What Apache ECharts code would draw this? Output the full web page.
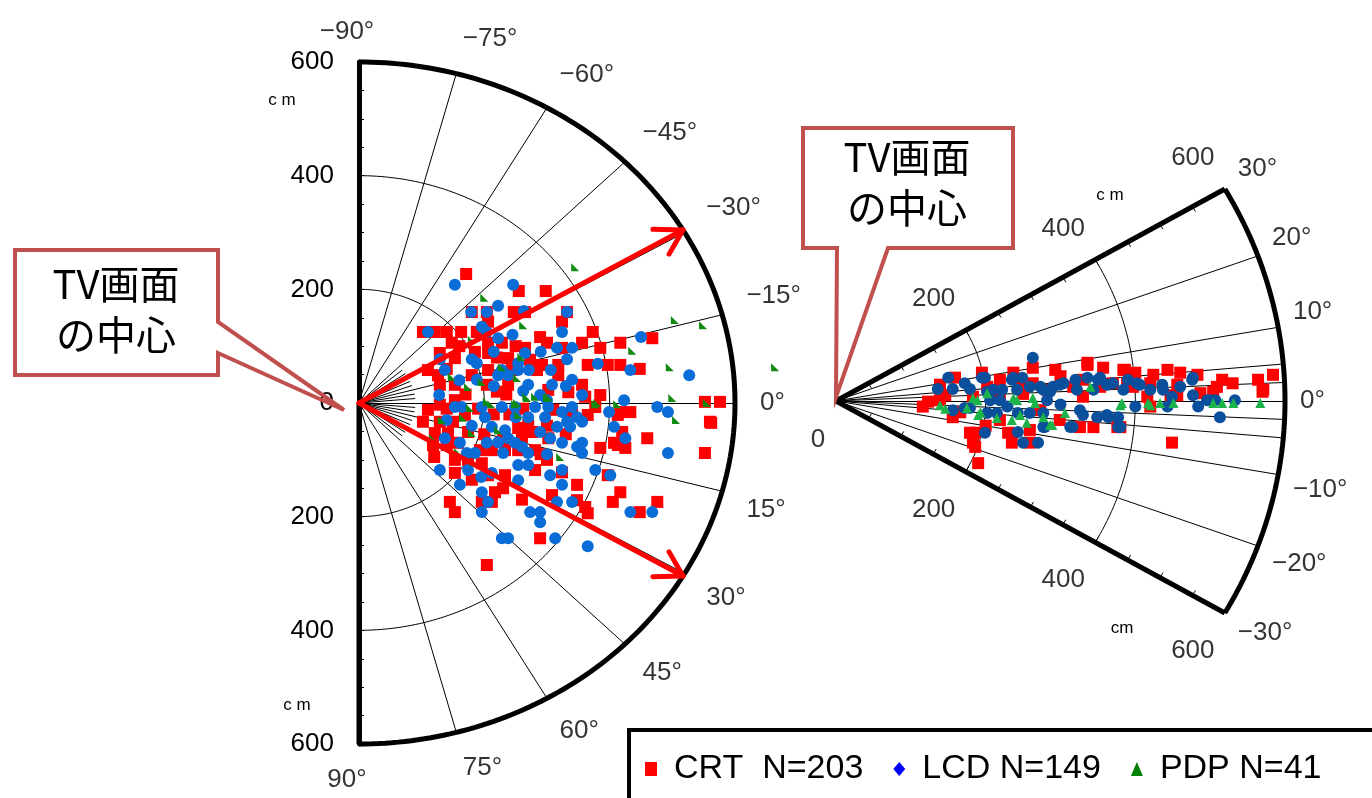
<!DOCTYPE html>
<html>
<head>
<meta charset="utf-8">
<script src="https://cdn.jsdelivr.net/npm/echarts@6/dist/echarts.min.js"></script>
<style>
html, body { margin: 0; padding: 0; background: #fff; }
#chart { width: 1372px; height: 798px; }
</style>
</head>
<body>
<div id="chart"></div>
<script>
// 左図：水平方向 [前方距離cm, 横方向cm(下が＋)]
var leftCRT = [[171,-227],[255,-197],[298,-197],[180,-160],[204,-160],[247,-160],[265,-160],[332,-160],[324,-143],[206,-143],
  [102,-125],[121,-125],[140,-125],[163,-125],[188,-125],[148,-106],[206,-106],[228,-106],[289,-116],[300,-106],
  [324,-97],[356,-106],[373,-125],[385,-97],[417,-106],[129,-88],[153,-79],[206,-88],[238,-79],[265,-97],
  [273,-76],[292,-67],[318,-67],[365,-67],[397,-67],[110,-58],[126,-49],[153,-32],[180,-49],[206,-58],
  [244,-58],[284,-58],[318,-49],[356,-32],[385,-14],[129,-32],[204,-32],[238,-32],[302,-23],[334,-19],
  [361,-11],[468,-114],[417,-67],[448,-60],[552,-2],[576,-2],[433,16],[417,16],[562,35],[460,62],
  [407,70],[425,79],[552,88],[102,33],[129,33],[150,33],[169,21],[121,53],[142,53],[174,51],
  [118,74],[140,74],[158,70],[193,83],[212,83],[233,83],[254,83],[281,83],[302,62],[254,44],
  [276,51],[310,12],[340,16],[365,21],[377,7],[413,21],[413,74],[385,79],[153,100],[174,100],
  [153,123],[196,106],[206,127],[233,127],[281,118],[324,122],[308,162],[348,144],[348,171],[365,194],
  [397,127],[417,157],[405,174],[145,174],[153,192],[196,174],[212,174],[289,238],[204,285],[217,157],
  [420,51],[560,33],[476,174],[448,192],[361,183],[129,3],[153,-5],[110,12],[240,20],[262,10],
  [160,-100],[185,-90],[220,-80],[250,-100],[140,-60],[170,-15],[190,10],[215,20],[235,-15],[270,40],
  [300,40],[330,55],[200,55],[230,65],[260,60],[180,135],[230,150],[260,170],[300,100],[120,95],
  [140,10],[220,-20],[290,90]];
var leftLCD = [[153,-208],[246,-208],[179,-160],[204,-160],[222,-171],[263,-162],[332,-160],[196,-134],[324,-125],[110,-125],
  [204,-125],[222,-114],[265,-88],[316,-97],[340,-97],[332,-77],[129,-77],[137,-58],[180,-77],[188,-70],
  [228,-58],[254,-70],[254,-58],[271,-58],[306,-58],[238,-49],[222,-49],[381,-69],[433,-58],[188,-41],
  [270,-32],[262,-21],[308,-32],[340,-41],[289,-14],[356,-14],[128,-14],[423,-5],[450,-116],[527,-49],
  [476,7],[493,16],[399,16],[407,42],[425,62],[493,88],[468,192],[433,192],[153,7],[164,7],
  [196,7],[228,7],[249,7],[281,7],[302,7],[324,16],[340,7],[201,25],[270,25],[297,25],
  [332,33],[348,25],[212,42],[233,48],[289,51],[316,42],[337,42],[356,33],[137,62],[161,70],
  [204,70],[222,69],[238,62],[249,70],[305,62],[324,70],[348,77],[172,88],[185,88],[230,88],
  [260,77],[270,88],[356,70],[356,88],[254,109],[270,109],[129,118],[174,118],[212,123],[254,136],
  [305,127],[324,118],[377,118],[401,127],[161,144],[196,157],[324,144],[206,174],[316,174],[340,174],
  [196,192],[273,192],[289,192],[289,210],[228,238],[238,238],[313,238],[365,252],
  [215,-90],[245,-120],[290,-90],[160,-40],[215,-30],[300,-5],[330,-30],[140,30],[180,40],[250,25],
  [300,90],[195,130]];
var leftPDP = [[345,-239],[200,-185],[262,-137],[180,-111],[148,-46],[174,-28],[196,-37],[228,-63],[259,-81],[252,-44],
  [267,-11],[211,2],[249,2],[281,-11],[302,-11],[377,2],[412,2],[436,-92],[504,-146],[549,-137],
  [496,-63],[500,-9],[555,0],[664,-63],[506,30],[132,30],[166,26],[177,9],[180,53],[204,-2],
  [222,48],[252,0],[254,21],[268,-9],[300,-9],[321,95],[380,0],[118,62],[158,86],[182,104]];

// 右図：垂直方向 [前方距離cm, 高さ方向cm(上が＋)]
var rightCRT = [[123,-1],[139,23],[159,33],[195,40],[202,20],[219,30],[237,40],[263,47],[293,44],[336,51],
  [357,47],[384,44],[424,37],[443,44],[483,37],[516,30],[564,30],[584,37],[571,16],[317,20],
  [353,20],[397,20],[420,25],[456,23],[487,11],[509,20],[263,25],[282,16],[246,20],[183,6],
  [219,6],[330,6],[416,6],[456,8],[116,-8],[139,1],[186,-45],[186,-65],[190,-88],[179,-45],
  [235,-59],[259,-59],[259,-41],[183,-59],[326,-37],[344,-37],[380,-37],[449,-59],[156,-23],[370,25],
  [389,25],[447,8],[504,13],[570,13],[420,-8],[376,-37],[386,44],[336,54],[146,8],[166,-16],
  [219,-27],[273,-13],[299,-27],[300,35],[330,30],[250,10],[400,40],[460,40],[530,25],[200,-35],
  [230,-45]];
var rightLCD = [[263,61],[150,33],[136,17],[156,17],[172,25],[179,17],[195,33],[210,16],[237,33],[249,33],
  [259,20],[273,20],[290,20],[304,25],[336,33],[353,33],[370,25],[384,16],[402,25],[420,16],
  [437,16],[449,6],[477,33],[477,8],[496,1],[507,1],[533,1],[513,-23],[344,16],[322,16],
  [219,1],[282,1],[199,33],[202,13],[222,16],[235,30],[242,16],[277,16],[286,13],[156,-13],
  [172,-10],[179,-10],[202,-17],[215,-17],[229,-8],[243,-17],[259,-17],[277,-17],[206,1],[199,-45],
  [243,-44],[250,-59],[270,-59],[277,-37],[316,-37],[349,-23],[364,-23],[377,-23],[377,-37],[299,23],
  [350,30],[362,23],[406,23],[436,23],[476,30],[484,-8],[500,1],[443,-8],[400,-8],[362,-20],
  [326,-13],[313,-37],[380,-37],[286,16],[279,-37],[320,30],[390,30],[460,20],[300,-5],[330,-20]];
var rightPDP = [[139,-6],[146,-11],[183,4],[189,1],[175,-10],[190,-20],[202,11],[215,-24],[235,-27],[237,4],
  [242,1],[255,-31],[263,4],[266,-3],[277,-23],[286,-34],[306,-17],[340,20],[380,-6],[382,-3],
  [417,-3],[420,-6],[433,-3],[451,-3],[504,-3],[516,-3],[531,-3],[567,-3],[193,-16],[246,-20],[289,-34]];

var seriesNames = ['CRT  N=203', 'LCD N=149', 'PDP N=41'];
var leftAngleTicks = [-90, -75, -60, -45, -30, -15, 0, 15, 30, 45, 60, 75, 90];
var leftRadialLines = [-75, -60, -45, -30, -15, 0, 15, 30, 45, 60, 75];
var leftShortLines = [-40, -35, -25, -20, -10, -5, 5, 10, 20, 25, 35, 40];
var rightAngleTicks = [-30, -20, -10, 0, 10, 20, 30];
var rightRadialLines = [-20, -10, -5, -2.5, 0, 2.5, 5, 10, 20];
var ringRadii = [200, 400];
var radiusLabels = [200, 400, 600];
var arrowAngles = [-30.5, 30.5];
var rMax = 600;

var FONT = 'Liberation Sans, Arial, sans-serif';
var JP = 'Noto Sans CJK JP, sans-serif';

function rad(a) { return a * Math.PI / 180; }
function pt(r, a) { return [r * Math.cos(rad(a)), r * Math.sin(rad(a))]; }
function arc(r, a0, a1) {
  var p = [];
  for (var a = a0; a <= a1 + 0.001; a += 1) p.push(pt(r, a));
  return p;
}
function angleText(a) { return (a < 0 ? '\u2212' + Math.abs(a) : a) + '\u00b0'; }

function frameLine(id, data, width, gi) {
  return { type: 'line', name: id, xAxisIndex: gi, yAxisIndex: gi, data: data, showSymbol: false, symbol: 'none',
    clip: false, silent: true, z: 1, lineStyle: { color: '#000', width: width }, animation: false };
}
function segs(id, list, width, gi) {
  return { type: 'lines', name: id, coordinateSystem: 'cartesian2d', xAxisIndex: gi, yAxisIndex: gi,
    silent: true, z: 1, lineStyle: { color: '#000', width: width, opacity: 1 }, data: list, animation: false };
}

var myChart = echarts.init(document.getElementById('chart'));
var series = [];

// ---- 左図の枠 ----
series.push(frameLine('L-outer', arc(rMax, -90, 90), 5, 0));
ringRadii.forEach(function(r) { series.push(frameLine('L-ring' + r, arc(r, -90, 90), 1, 0)); });
series.push(frameLine('L-edge90', [[0, 0], [0, rMax]], 5, 0));
series.push(segs('L-radial', leftRadialLines.map(function(a) { return { coords: [[0, 0], pt(rMax, a)] }; }), 1, 0));
series.push(segs('L-short', leftShortLines.map(function(a) { return { coords: [[0, 0], pt(90, a)] }; }), 1, 0));

// ---- 右図の枠 ----
series.push(frameLine('R-outer', arc(rMax, -30, 30), 5, 1));
ringRadii.forEach(function(r) { series.push(frameLine('R-ring' + r, arc(r, -30, 30), 1, 1)); });
series.push(segs('R-edges', [{ coords: [[0, 0], pt(rMax, 30)] }, { coords: [[0, 0], pt(rMax, -30)] }], 5, 1));
series.push(segs('R-radial', rightRadialLines.map(function(a) { return { coords: [[0, 0], pt(rMax, a)] }; }), 1, 1));
var rTicks = [];
for (var r = 50; r < rMax; r += 50) {
  [30, -30].forEach(function(a) {
    var p = pt(r, a), s = a > 0 ? 1 : -1;
    rTicks.push({ coords: [p, [p[0] + 8 * Math.sin(rad(a)) * s, p[1] - 8 * Math.cos(rad(a)) * s]] });
  });
}
series.push(segs('R-ticks', rTicks, 1, 1));

// ---- 散布点 ----
function scatter(name, data, gi, symbol, size, color) {
  return { type: 'scatter', name: name, xAxisIndex: gi, yAxisIndex: gi, data: data, symbol: symbol,
    symbolSize: size, clip: false, z: 2, itemStyle: { color: color, opacity: 1 }, animation: false };
}
series.push(scatter(seriesNames[0], leftCRT, 0, 'rect', 12, '#ff0000'));
series.push(scatter(seriesNames[1], leftLCD, 0, 'circle', 12, '#0a6cd6'));
series.push(scatter(seriesNames[2], leftPDP, 0, 'path://M0,0 L0,10 L10,10 Z', 8, '#118a11'));
series.push(scatter(seriesNames[0], rightCRT, 1, 'rect', 12, '#ff0000'));
series.push(scatter(seriesNames[1], rightLCD, 1, 'circle', 12, '#0a4f9c'));
series.push(scatter(seriesNames[2], rightPDP, 1, 'triangle', 10, '#1db34b'));

// ---- 矢印（開いた矢じり）----
var arrowSegs = [];
arrowAngles.forEach(function(a) {
  var tip = pt(rMax, a);
  arrowSegs.push({ coords: [[0, 0], tip] });
  [-32, 32].forEach(function(d) {
    var b = pt(48, a + 180 + d);
    arrowSegs.push({ coords: [tip, [tip[0] + b[0], tip[1] + b[1]]] });
  });
});
series.push({ type: 'lines', name: 'arrows', coordinateSystem: 'cartesian2d', xAxisIndex: 0, yAxisIndex: 0,
  silent: true, z: 5, lineStyle: { color: '#ff0000', width: 5, opacity: 1, cap: 'round' },
  data: arrowSegs, animation: false });

// ---- 目盛ラベル ----
function labelSeries(name, gi, items) {
  return { type: 'scatter', name: name, xAxisIndex: gi, yAxisIndex: gi, silent: true, z: 6, clip: false,
    symbolSize: 1, itemStyle: { color: 'rgba(0,0,0,0)' }, data: items, animation: false };
}
series.push(labelSeries('L-angle', 0, leftAngleTicks.map(function(a) {
  return { value: pt(640, a), label: { show: true, formatter: angleText(a), fontSize: 26, fontFamily: FONT, color: '#000',
    align: Math.abs(a) === 90 ? 'center' : 'left', verticalAlign: a < 0 ? 'bottom' : (a > 0 ? 'top' : 'middle'),
    position: 'inside', offset: [Math.abs(a) === 90 ? -12 : 0, a === -90 ? 6 : 0] } };
})));
series.push(labelSeries('R-angle', 1, rightAngleTicks.map(function(a) {
  return { value: pt(620, a), label: { show: true, formatter: angleText(a), fontSize: 26, fontFamily: FONT, color: '#000',
    align: 'left', verticalAlign: a > 0 ? 'bottom' : (a < 0 ? 'top' : 'middle'), position: 'inside' } };
})));
var rLabs = [];
radiusLabels.forEach(function(r) {
  rLabs.push({ value: pt(r, 30), label: { show: true, formatter: String(r), offset: [-32, -31] } });
  rLabs.push({ value: pt(r, -30), label: { show: true, formatter: String(r), offset: [-32, 38] } });
});
rLabs.push({ value: [0, 0], label: { show: true, formatter: '0', offset: [-18, 39] } });
var rLabSeries = labelSeries('R-radius', 1, rLabs);
rLabSeries.label = { position: 'inside', fontSize: 26, fontFamily: FONT, color: '#000', align: 'center', verticalAlign: 'middle' };
series.push(rLabSeries);

// ---- 吹き出し ----
function callout(points, lines, cx, cy) {
  return [
    { type: 'polygon', z: 20, shape: { points: points }, style: { fill: 'none', stroke: '#c0504d', lineWidth: 4, lineJoin: 'miter' } },
    { type: 'text', z: 21, x: cx, y: cy, style: { text: lines[0], font: '40px ' + JP, fill: '#000', align: 'center', verticalAlign: 'middle' } },
    { type: 'text', z: 21, x: cx, y: cy + 51, style: { text: lines[1], font: '40px ' + JP, fill: '#000', align: 'center', verticalAlign: 'middle' } }
  ];
}
var calloutText = ['TV画面', 'の中心'];
var graphics = []
  .concat(callout([[15, 250], [218, 250], [218, 322], [344, 410], [218, 353], [218, 375], [15, 375]], calloutText, 116, 284))
  .concat(callout([[803, 128], [1013, 128], [1013, 248], [888, 248], [836, 397], [837, 248], [803, 248]], calloutText, 907, 157));
graphics.push({ type: 'text', z: 6, x: 282, y: 100, style: { text: 'c m', font: '17px ' + FONT, fill: '#000', align: 'center', verticalAlign: 'middle' } });
graphics.push({ type: 'text', z: 6, x: 297, y: 705, style: { text: 'c m', font: '17px ' + FONT, fill: '#000', align: 'center', verticalAlign: 'middle' } });
graphics.push({ type: 'text', z: 6, x: 1110, y: 195, style: { text: 'c m', font: '17px ' + FONT, fill: '#000', align: 'center', verticalAlign: 'middle' } });
graphics.push({ type: 'text', z: 6, x: 1122, y: 628, style: { text: 'cm', font: '17px ' + FONT, fill: '#000', align: 'center', verticalAlign: 'middle' } });
graphics.push({ type: 'rect', z: 7, shape: { x: 629, y: 730, width: 760, height: 80 }, style: { fill: '#fff', stroke: '#000', lineWidth: 4 } });

var option = {
  animation: false,
  backgroundColor: '#fff',
  grid: [
    { left: 359, top: 62, width: 376, height: 682 },
    { left: 836, top: 401 - 282.7, width: 449, height: 565.3 }
  ],
  xAxis: [
    { gridIndex: 0, type: 'value', min: 0, max: 600, show: false },
    { gridIndex: 1, type: 'value', min: 0, max: 600, show: false }
  ],
  yAxis: [
    { gridIndex: 0, type: 'value', min: -600, max: 600, interval: 50, inverse: true,
      axisLine: { show: true, onZero: false, lineStyle: { color: '#000', width: 5 } },
      axisTick: { show: true, inside: true, length: 5, lineStyle: { color: '#000', width: 1 } },
      splitLine: { show: false },
      axisLabel: { margin: 25, fontSize: 26, fontFamily: FONT, color: '#000',
        formatter: function(v) { return v % 200 === 0 ? String(Math.abs(v)) : ''; } } },
    { gridIndex: 1, type: 'value', min: -400, max: 400, show: false }
  ],
  legend: {
    left: 640, top: 747, z: 10, itemWidth: 12, itemHeight: 14, itemGap: 30,
    textStyle: { fontSize: 34, fontFamily: FONT, color: '#000', padding: [0, 0, 0, 12] },
    data: [
      { name: seriesNames[0], icon: 'rect', itemStyle: { color: '#ff0000' } },
      { name: seriesNames[1], icon: 'diamond', itemStyle: { color: '#0000ff' } },
      { name: seriesNames[2], icon: 'triangle', itemStyle: { color: '#008000' } }
    ]
  },
  graphic: graphics,
  series: series
};

myChart.setOption(option);
</script>
</body>
</html>
